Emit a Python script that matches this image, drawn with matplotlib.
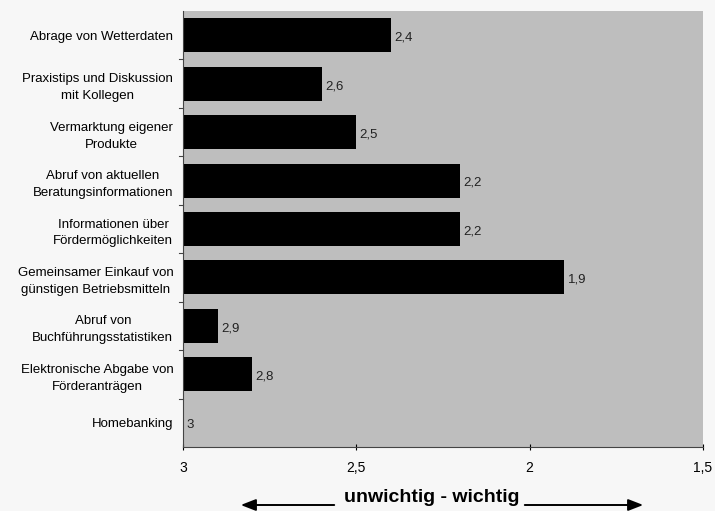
import matplotlib
matplotlib.use("Agg")
import matplotlib.pyplot as plt

plt.rcParams['font.family'] = ['Liberation Sans', 'DejaVu Sans']

categories = [
    "Abrage von Wetterdaten",
    "Praxistips und Diskussion\nmit Kollegen",
    "Vermarktung eigener\nProdukte",
    "Abruf von aktuellen\nBeratungsinformationen",
    "Informationen über\nFördermöglichkeiten",
    "Gemeinsamer Einkauf von\ngünstigen Betriebsmitteln",
    "Abruf von\nBuchführungsstatistiken",
    "Elektronische Abgabe von\nFörderanträgen",
    "Homebanking",
]
values = [2.4, 2.6, 2.5, 2.2, 2.2, 1.9, 2.9, 2.8, 3.0]
value_labels = ["2,4", "2,6", "2,5", "2,2", "2,2", "1,9", "2,9", "2,8", "3"]
xticks = [3, 2.5, 2, 1.5]
xtick_labels = ["3", "2,5", "2", "1,5"]
axis_text = "unwichtig - wichtig"

fig = plt.figure(figsize=(7.15, 5.11), dpi=100, facecolor='#f7f7f7')
ax = fig.add_axes([183/715, 1 - 447/511, 520/715, 436/511])
ax.set_facecolor('#bebebe')

base = 3.0
ypos = list(range(len(categories)))
ax.barh(ypos, [v - base for v in values], left=base, height=0.7, color='black')

for y, v, lab in zip(ypos, values, value_labels):
    ax.text(v - 0.01, y + 0.05, lab, va='center', ha='left', fontsize=9.5, color='#222222')

ax.set_xlim(3, 1.5)
ax.set_ylim(len(categories) - 0.5, -0.5)
ax.set_xticks(xticks)
ax.set_xticklabels(xtick_labels, fontsize=10)
ax.set_yticks(ypos)
ax.set_yticklabels(categories, fontsize=9.5, linespacing=1.55, multialignment='center')
ax.tick_params(axis='y', length=0, pad=7)
ax.tick_params(axis='x', length=4, direction='inout', pad=8)
for s in ['top', 'right']:
    ax.spines[s].set_visible(False)
ax.spines['left'].set_color('#444444')
ax.spines['bottom'].set_color('#444444')

for sep in [i + 0.5 for i in range(len(categories) - 1)]:
    ax.plot([3.0, 3.012], [sep, sep], color='#444444', lw=0.8, clip_on=False)

fig.text(432/715, 1 - 497/511, axis_text, ha='center', va='center',
         fontsize=14, fontweight='bold')
fig.add_artist(matplotlib.patches.FancyArrowPatch(
    (337/715, 1 - 505/511), (238/715, 1 - 505/511), transform=fig.transFigure,
    arrowstyle='-|>,head_length=9,head_width=3.5', color='black', lw=1.4))
fig.add_artist(matplotlib.patches.FancyArrowPatch(
    (522/715, 1 - 505/511), (646/715, 1 - 505/511), transform=fig.transFigure,
    arrowstyle='-|>,head_length=9,head_width=3.5', color='black', lw=1.4))

fig.savefig("out.png", dpi=100, facecolor=fig.get_facecolor())
